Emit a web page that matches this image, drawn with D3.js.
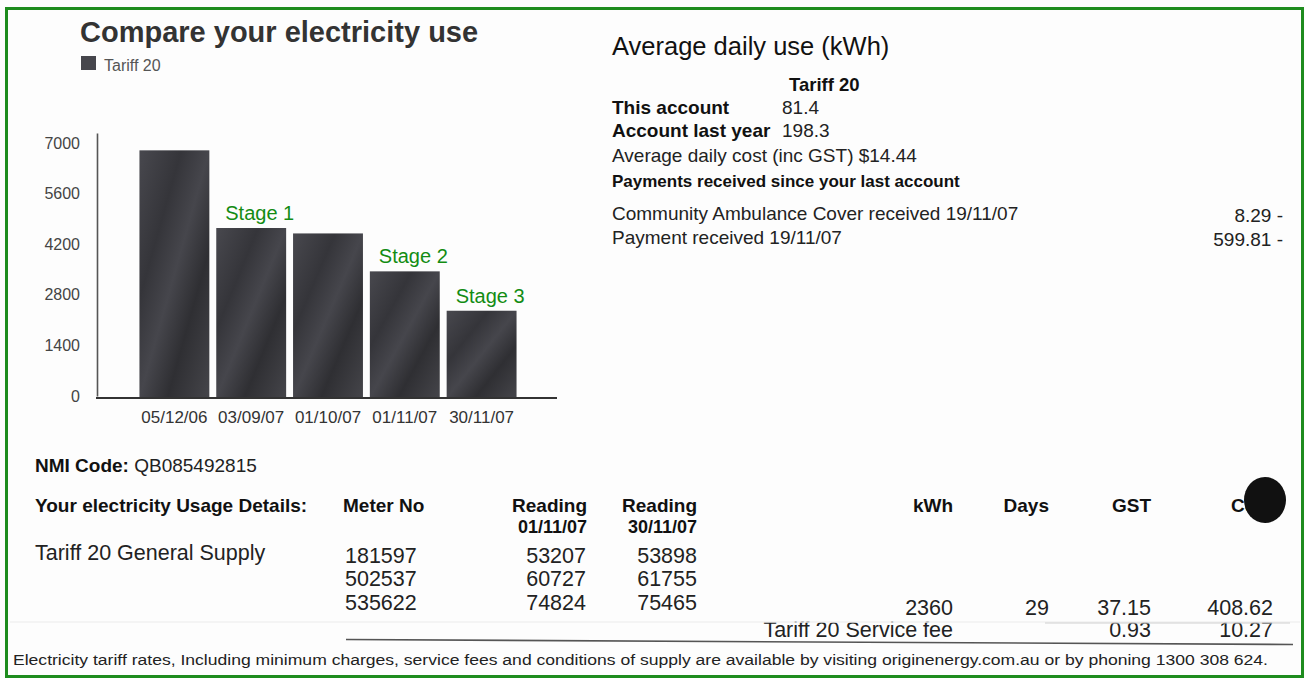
<!DOCTYPE html>
<html>
<head>
<meta charset="utf-8">
<script src="https://cdn.jsdelivr.net/npm/d3@7"></script>
<style>
  body { margin: 0; background: #fff; }
  svg text { font-family: "Liberation Sans", Arial, Helvetica, sans-serif; }
</style>
</head>
<body>
<div id="bill"></div>
<script>
// chart data
var dates = ["05/12/06", "03/09/07", "01/10/07", "01/11/07", "30/11/07"];
var usage = [6800, 4650, 4500, 3450, 2360];
var yTicks = [0, 1400, 2800, 4200, 5600, 7000];
var stageDates = ["03/09/07", "01/11/07", "30/11/07"];
var stageNames = ["Stage 1", "Stage 2", "Stage 3"];

// average daily use panel
var avgLabels = ["This account", "Account last year"];
var avgValues = ["81.4", "198.3"];
var avgCost = "Average daily cost (inc GST) $14.44";
var payLabels = ["Community Ambulance Cover received 19/11/07", "Payment received 19/11/07"];
var payAmounts = ["8.29 -", "599.81 -"];

// usage details table
var meters = ["181597", "502537", "535622"];
var readStart = ["53207", "60727", "74824"];
var readEnd = ["53898", "61755", "75465"];
var supplyRow = ["2360", "29", "37.15", "408.62"];
var feeRow = ["0.93", "10.27"];

var W = 1305, H = 678;
var svg = d3.select("#bill").append("svg")
    .attr("width", W).attr("height", H);

var defs = svg.append("defs");
var grad = defs.append("linearGradient").attr("id", "barfill")
    .attr("x1", "0").attr("y1", "0").attr("x2", "1").attr("y2", "1");
[["0", "#48484e"], ["0.3", "#35353a"], ["0.5", "#46464c"], ["0.7", "#2f2f33"], ["1", "#45454a"]]
  .forEach(function(s) { grad.append("stop").attr("offset", s[0]).attr("stop-color", s[1]); });

// paper + green frame
svg.append("rect").attr("width", W).attr("height", H).attr("fill", "#fdfdfd");
svg.append("rect").attr("x", 6.5).attr("y", 8.5).attr("width", 1296).attr("height", 668)
    .attr("fill", "none").attr("stroke", "#1e8c1e").attr("stroke-width", 3);

// ---- bar chart ----
var xScale = d3.scaleBand().domain(dates).range([136, 520])
    .paddingInner(0.09).paddingOuter(0.045);
var yScale = d3.scaleLinear().domain([0, 7280]).range([396, 133]);

svg.append("text").attr("x", 80).attr("y", 42)
    .attr("font-size", 29).attr("font-weight", "bold").attr("fill", "#333")
    .text("Compare your electricity use");
svg.append("rect").attr("x", 81).attr("y", 56).attr("width", 15).attr("height", 14).attr("fill", "#46464c");
svg.append("text").attr("x", 104).attr("y", 71).attr("font-size", 16).attr("fill", "#555").text("Tariff 20");

svg.selectAll("rect.bar")
    .data(usage)
    .enter()
    .append("rect")
    .attr("class", "bar")
    .attr("x", function(d, i) { return xScale(dates[i]); })
    .attr("width", xScale.bandwidth())
    .attr("y", function(d) { return yScale(d); })
    .attr("height", function(d) { return yScale(0) + 2 - yScale(d); })
    .attr("fill", "url(#barfill)");

var yAxis = d3.axisLeft(yScale).tickValues(yTicks).tickFormat(d3.format("d"))
    .tickSize(0).tickPadding(17);
var gy = svg.append("g").attr("transform", "translate(97,0)").call(yAxis);
gy.select(".domain").attr("stroke", "#555").attr("stroke-width", 1.6);
gy.selectAll("text").attr("font-size", 16).attr("fill", "#444")
    .attr("font-family", "'Liberation Sans', Arial, sans-serif");

var xAxis = d3.axisBottom(xScale).tickSize(0).tickPadding(13);
var gx = svg.append("g").attr("transform", "translate(0,398)").call(xAxis);
gx.select(".domain").remove();
gx.selectAll("text").attr("font-size", 17).attr("fill", "#333")
    .attr("font-family", "'Liberation Sans', Arial, sans-serif");
svg.append("line").attr("x1", 96).attr("x2", 557).attr("y1", 398).attr("y2", 398)
    .attr("stroke", "#333").attr("stroke-width", 1.8);

// stage annotations sit on top of their bar
svg.selectAll("text.stage")
    .data(stageNames)
    .enter()
    .append("text")
    .attr("class", "stage")
    .attr("x", function(d, i) { return xScale(stageDates[i]) + 9; })
    .attr("y", function(d, i) { return yScale(usage[dates.indexOf(stageDates[i])]) - 8; })
    .attr("font-size", 20).attr("fill", "#138c13")
    .text(function(d) { return d; });

// ---- average daily use ----
var rp = svg.append("g");
rp.append("text").attr("x", 612).attr("y", 55).attr("font-size", 25.5).attr("fill", "#111")
    .text("Average daily use (kWh)");
rp.append("text").attr("x", 789).attr("y", 91).attr("font-size", 18.5).attr("font-weight", "bold")
    .attr("fill", "#111").text("Tariff 20");
avgLabels.forEach(function(t, i) {
  var y = 113.5 + i * 23;
  rp.append("text").attr("x", 612).attr("y", y).attr("font-size", 19).attr("font-weight", "bold")
      .attr("fill", "#111").text(t);
  rp.append("text").attr("x", 782).attr("y", y).attr("font-size", 19).attr("fill", "#222").text(avgValues[i]);
});
rp.append("text").attr("x", 612).attr("y", 162).attr("font-size", 19).attr("fill", "#222").text(avgCost);
rp.append("text").attr("x", 612).attr("y", 187).attr("font-size", 17).attr("font-weight", "bold")
    .attr("fill", "#111").text("Payments received since your last account");
payLabels.forEach(function(t, i) {
  var y = 220 + i * 24;
  rp.append("text").attr("x", 612).attr("y", y).attr("font-size", 19).attr("fill", "#222").text(t);
  rp.append("text").attr("x", 1283).attr("y", y + 2).attr("font-size", 19).attr("fill", "#222")
      .attr("text-anchor", "end").text(payAmounts[i]);
});

// ---- usage details ----
var tb = svg.append("g");
var nmi = tb.append("text").attr("x", 35).attr("y", 472).attr("font-size", 19).attr("fill", "#111");
nmi.append("tspan").attr("font-weight", "bold").text("NMI Code:");
nmi.append("tspan").attr("fill", "#222").text(" QB085492815");

var heads = [
  {t: "Your electricity Usage Details:", x: 35, a: "start"},
  {t: "Meter No", x: 343, a: "start"},
  {t: "Reading", x: 587, a: "end"},
  {t: "Reading", x: 697, a: "end"},
  {t: "kWh", x: 953, a: "end"},
  {t: "Days", x: 1049, a: "end"},
  {t: "GST", x: 1151, a: "end"},
  {t: "Cost", x: 1231, a: "start"}
];
heads.forEach(function(h) {
  tb.append("text").attr("x", h.x).attr("y", 512).attr("font-size", 19).attr("font-weight", "bold")
      .attr("fill", "#111").attr("text-anchor", h.a).text(h.t);
});
tb.append("text").attr("x", 587).attr("y", 533).attr("font-size", 18).attr("font-weight", "bold")
    .attr("fill", "#111").attr("text-anchor", "end").text("01/11/07");
tb.append("text").attr("x", 697).attr("y", 533).attr("font-size", 18).attr("font-weight", "bold")
    .attr("fill", "#111").attr("text-anchor", "end").text("30/11/07");

tb.append("text").attr("x", 35).attr("y", 560).attr("font-size", 21.5).attr("fill", "#222")
    .text("Tariff 20 General Supply");
meters.forEach(function(m, i) {
  var y = 562.5 + i * 23.5;
  tb.append("text").attr("x", 345).attr("y", y).attr("font-size", 21.5).attr("fill", "#222").text(m);
  tb.append("text").attr("x", 586).attr("y", y).attr("font-size", 21.5).attr("fill", "#222")
      .attr("text-anchor", "end").text(readStart[i]);
  tb.append("text").attr("x", 697).attr("y", y).attr("font-size", 21.5).attr("fill", "#222")
      .attr("text-anchor", "end").text(readEnd[i]);
});

var rowX = [953, 1049, 1151, 1273];
supplyRow.forEach(function(v, i) {
  tb.append("text").attr("x", rowX[i]).attr("y", 614.5).attr("font-size", 21.5).attr("fill", "#222")
      .attr("text-anchor", "end").text(v);
});
tb.append("text").attr("x", 953).attr("y", 636.5).attr("font-size", 21.5).attr("fill", "#222")
    .attr("text-anchor", "end").text("Tariff 20 Service fee");
feeRow.forEach(function(v, i) {
  tb.append("text").attr("x", rowX[i + 2]).attr("y", 636.5).attr("font-size", 21.5).attr("fill", "#222")
      .attr("text-anchor", "end").text(v);
});

// rules
tb.append("line").attr("x1", 10).attr("x2", 1300).attr("y1", 622).attr("y2", 622)
    .attr("stroke", "#f0f0f0").attr("stroke-width", 1.5);
tb.append("line").attr("x1", 1045).attr("x2", 1290).attr("y1", 623).attr("y2", 623)
    .attr("stroke", "#d0d0d0").attr("stroke-width", 1.2);
tb.append("line").attr("x1", 346).attr("x2", 1293).attr("y1", 639.5).attr("y2", 644.5)
    .attr("stroke", "#555").attr("stroke-width", 1.6);

// redaction blob over the Cost header
tb.append("ellipse").attr("cx", 1265).attr("cy", 500).attr("rx", 21).attr("ry", 23)
    .attr("fill", "#111");

tb.append("text").attr("x", 13).attr("y", 665).attr("font-size", 14).attr("fill", "#222")
    .attr("textLength", 1255).attr("lengthAdjust", "spacingAndGlyphs")
    .text("Electricity tariff rates, Including minimum charges, service fees and conditions of supply are available by visiting originenergy.com.au or by phoning 1300 308 624.");
</script>
</body>
</html>
